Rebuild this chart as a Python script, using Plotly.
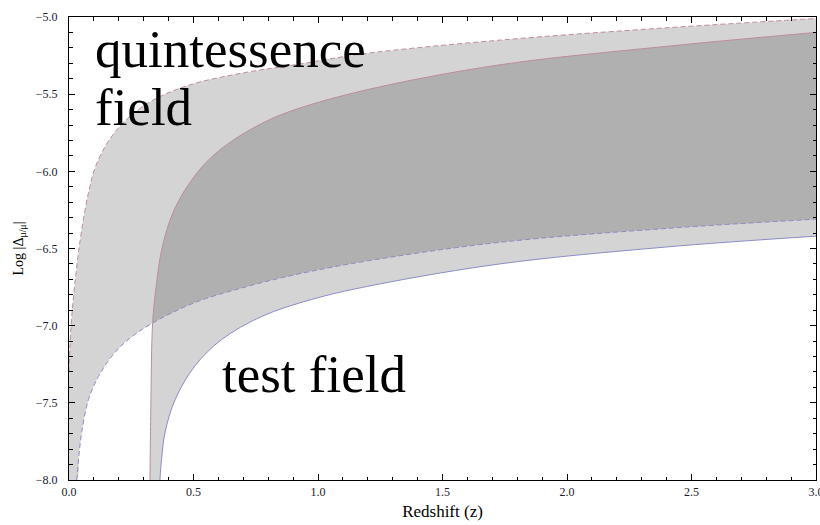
import plotly.graph_objects as go

# Axis ranges
x_range = [0.0, 3.0]
y_range = [-8.0, -5.0]

# Quintessence field band: upper (dashed, reddish) and lower (dashed, bluish)
q_up_z = [0.0, 0.003, 0.011, 0.031, 0.051, 0.078, 0.104, 0.145, 0.198, 0.278, 0.372, 0.506,
          0.707, 0.908, 1.175, 1.73, 2.4, 3.0]
q_up_y = [-7.3, -7.16, -6.94, -6.62, -6.38, -6.14, -5.98, -5.84, -5.72, -5.60, -5.51, -5.43,
          -5.36, -5.31, -5.24, -5.15, -5.07, -5.01]
q_lo_z = [0.031, 0.04, 0.051, 0.078, 0.118, 0.171, 0.238, 0.339, 0.506, 0.707, 0.908, 1.2,
          1.73, 2.4, 3.0]
q_lo_y = [-8.0, -7.84, -7.69, -7.48, -7.33, -7.20, -7.09, -6.98, -6.85, -6.75, -6.67, -6.58,
          -6.46, -6.37, -6.31]

# Test field band: upper (solid, reddish) and lower (solid, bluish)
t_up_z = [0.325, 0.327, 0.329, 0.336, 0.352, 0.372, 0.412, 0.466, 0.546, 0.64, 0.774, 0.908,
          1.2, 1.73, 2.4, 3.0]
t_up_y = [-8.0, -7.75, -7.48, -6.98, -6.72, -6.51, -6.29, -6.12, -5.95, -5.82, -5.69, -5.60,
          -5.47, -5.31, -5.19, -5.10]
t_lo_z = [0.365, 0.372, 0.386, 0.426, 0.506, 0.613, 0.774, 0.975, 1.2, 1.73, 2.4, 3.0]
t_lo_y = [-8.0, -7.86, -7.69, -7.48, -7.26, -7.09, -6.94, -6.83, -6.745, -6.60, -6.49, -6.42]

band_fill = "rgba(0,0,0,0.17)"
red_line = "rgb(190,140,160)"
blue_line = "rgb(140,140,200)"
serif = "Liberation Serif, Times New Roman, serif"
SM = 1.0

fig = go.Figure()

# Quintessence band fill (lower bound closes along the axis corner)
fig.add_trace(go.Scatter(x=[x_range[0]] + q_lo_z, y=[y_range[0]] + q_lo_y, mode="lines",
                         line=dict(width=0, shape="spline", smoothing=SM), hoverinfo="skip", showlegend=False))
fig.add_trace(go.Scatter(x=q_up_z, y=q_up_y, mode="lines", fill="tonexty", fillcolor=band_fill,
                         line=dict(width=0, shape="spline", smoothing=SM), hoverinfo="skip", showlegend=False))
# Test field band fill
fig.add_trace(go.Scatter(x=t_lo_z, y=t_lo_y, mode="lines",
                         line=dict(width=0, shape="spline", smoothing=SM), hoverinfo="skip", showlegend=False))
fig.add_trace(go.Scatter(x=t_up_z, y=t_up_y, mode="lines", fill="tonexty", fillcolor=band_fill,
                         line=dict(width=0, shape="spline", smoothing=SM), hoverinfo="skip", showlegend=False))

# Boundary lines
fig.add_trace(go.Scatter(x=q_up_z, y=q_up_y, mode="lines",
                         line=dict(color=red_line, width=1, dash="5px,3px", shape="spline", smoothing=SM),
                         showlegend=False))
fig.add_trace(go.Scatter(x=q_lo_z, y=q_lo_y, mode="lines",
                         line=dict(color=blue_line, width=1, dash="5px,3px", shape="spline", smoothing=SM),
                         showlegend=False))
fig.add_trace(go.Scatter(x=t_up_z, y=t_up_y, mode="lines",
                         line=dict(color=red_line, width=1, shape="spline", smoothing=SM), showlegend=False))
fig.add_trace(go.Scatter(x=t_lo_z, y=t_lo_y, mode="lines",
                         line=dict(color=blue_line, width=1, shape="spline", smoothing=SM), showlegend=False))

ann_font = dict(family=serif, size=53, color="black")
fig.add_annotation(x=0.096, y=-5.21, xref="x", yref="y", text="quintessence", showarrow=False,
                   xanchor="left", yanchor="middle", font=ann_font)
fig.add_annotation(x=0.096, y=-5.585, xref="x", yref="y", text="field", showarrow=False,
                   xanchor="left", yanchor="middle", font=ann_font)
fig.add_annotation(x=0.606, y=-7.31, xref="x", yref="y", text="test field", showarrow=False,
                   xanchor="left", yanchor="middle", font=ann_font)

axis_common = dict(showgrid=False, zeroline=False, showline=True, linecolor="black", linewidth=1,
                   mirror="allticks", ticks="inside", ticklen=6, tickcolor="black", tickwidth=1,
                   automargin=False,
                   tickfont=dict(family=serif, size=12, color="#1a1a2e"),
                   minor=dict(ticks="inside", ticklen=3.5, tickcolor="black", dtick=0.1, showgrid=False))

fig.update_xaxes(range=x_range, dtick=0.5, tickformat=".1f", ticklabelstandoff=1,
                 ticklabeloverflow="allow",
                 title=dict(text="Redshift (z)", font=dict(family=serif, size=17, color="black"), standoff=6),
                 **axis_common)
fig.update_yaxes(range=y_range, dtick=0.5, tickformat=".1f", ticklabelstandoff=8,
                 title=dict(text="Log |Δ<sub>μ/μ</sub>|", font=dict(family=serif, size=14, color="black"), standoff=8),
                 **axis_common)

fig.update_layout(width=820, height=525, margin=dict(l=69, r=4, t=17, b=45),
                  plot_bgcolor="white", paper_bgcolor="white", showlegend=False)

fig.write_html("out.html")
